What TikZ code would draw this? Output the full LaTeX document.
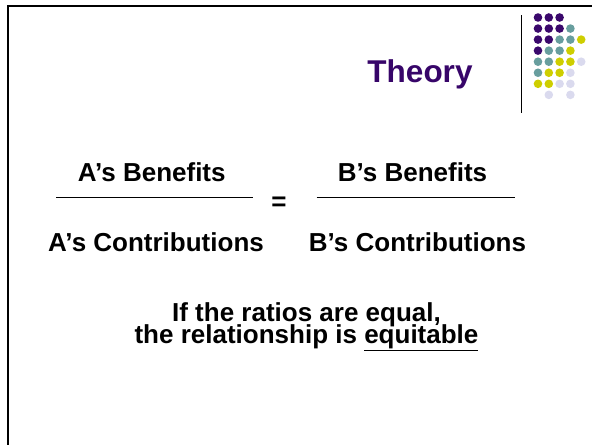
\documentclass[tikz,border=0pt]{standalone}
\usepackage{fontspec}
\setmainfont{Liberation Sans}
\usepackage{tikz}
\usetikzlibrary{positioning}
\definecolor{dotP}{RGB}{58,8,108}
\definecolor{dotT}{RGB}{104,158,158}
\definecolor{dotY}{RGB}{206,206,0}
\definecolor{dotL}{RGB}{218,218,238}
\definecolor{titleP}{RGB}{55,5,105}

\begin{document}
\begin{tikzpicture}[x=1pt,y=-1pt,
  frame/.style={line width=2.5pt,black},
  title/.style={font=\fontsize{31.5}{36}\selectfont\bfseries,text=titleP,inner sep=0pt},
  term/.style={font=\fontsize{26}{28}\selectfont\bfseries,inner sep=0pt},
  bar/.style={line width=1pt,black},
  spot/.style={circle,inner sep=0pt,minimum size=8.6pt}
]
\useasboundingbox (0,0) rectangle (592,445);

% Slide frame (top and left edges)
\draw[frame] (592,6.2) -- (7.8,6.2) -- (7.8,445);

% Divider beside the dots
\draw[line width=1pt] (521.7,15) -- (521.7,113);

% Dot grid
\foreach \r/\c/\k in {0/0/dotP,0/1/dotP,0/2/dotP,
                      1/0/dotP,1/1/dotP,1/2/dotP,1/3/dotT,
                      2/0/dotP,2/1/dotP,2/2/dotT,2/3/dotT,2/4/dotY,
                      3/0/dotP,3/1/dotT,3/2/dotT,3/3/dotY,
                      4/0/dotT,4/1/dotT,4/2/dotY,4/3/dotY,4/4/dotL,
                      5/0/dotT,5/1/dotY,5/2/dotY,5/3/dotL,
                      6/0/dotY,6/1/dotY,6/2/dotL,6/3/dotL,
                      7/1/dotL,7/3/dotL} {
  \node[spot,fill=\k] (d\r\c) at (538+\c*10.8,17.5+\r*11.05) {};
}

% Title
\node[title,anchor=base] (title) at (420,82) {Theory};

% Ratios
\node[term,anchor=base] (aben) at (151.7,181.7) {A’s Benefits};
\node[term,anchor=base] (bben) at (412.5,181.7) {B’s Benefits};
\node[term,anchor=base] (acon) at (156,251.7) {A’s Contributions};
\node[term,anchor=base] (bcon) at (417.5,251.7) {B’s Contributions};
\node[term] (eq) at (279,204) {=};

\draw[bar] (56,197.7) -- (253,197.7);
\draw[bar] (316.7,197.7) -- (515,197.7);

% Conclusion
\node[term,anchor=base] (line1) at (306.5,321) {If the ratios are equal,};
\node[term,anchor=base] (line2) at ([yshift=-22.3pt]line1.base) {the relationship is \underline{equitable}};

\end{tikzpicture}
\end{document}
